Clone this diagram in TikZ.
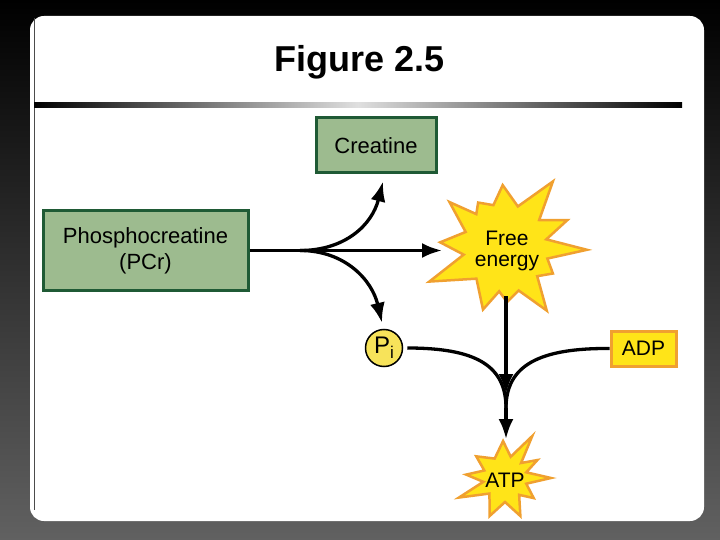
\documentclass[tikz,border=0pt]{standalone}
\usepackage{fontspec}
\setmainfont{Liberation Sans}
\usetikzlibrary{arrows.meta}
\definecolor{leaf}{HTML}{9DBB8F}
\definecolor{leafline}{HTML}{1F5A35}
\definecolor{flash}{HTML}{FFE418}
\definecolor{flashline}{HTML}{F0A030}
\definecolor{pale}{HTML}{F7E35A}
\tikzset{
  gbox/.style={draw=leafline,fill=leaf,line width=3pt,align=center,font=\fontsize{22}{26}\selectfont},
  ybox/.style={draw=flashline,fill=flash,line width=3pt,font=\fontsize{21}{24}\selectfont},
  burst/.style={draw=flashline,fill=flash,line width=2.5pt,line join=miter},
  flow/.style={line width=3.3pt,-{Latex[length=20pt,width=15pt]}},
  joint/.style={line width=3.3pt}
}
\begin{document}
\begin{tikzpicture}[x=1pt,y=-1pt]
					\useasboundingbox (0,0) rectangle (720,540);
					\shade[top color=black,bottom color=black!62] (0,0) rectangle (720,540);
					\fill[white,rounded corners=14pt] (30,16) rectangle (704,521);
					\draw[gray!60!black,line width=1pt] (34,18)--(34,510);
					\shade[left color=black,right color=black,middle color=gray!25] (34,103) rectangle (682,108);

					\node[font=\fontsize{36}{40}\bfseries\selectfont] (title) at (360,62) {Figure 2.5};

					\node[gbox,minimum width=120,minimum height=55] (creatine) at (376,145.5) {Creatine};
					\node[gbox,minimum width=205,minimum height=79] (pcr) at (145.5,250.5) {Phosphocreatine\\(PCr)};

					\begin{scope}[shift={(507,247)}]
						\draw[burst] (-2:80pt) \foreach \a/\r in {11/40,24/66,40/42,55/80,75/42,94/62,108/44,123/53,133/45,142/73,160/44,176/67,190/44,204/85,226/44,249/67,260/45,270/55,285/45,302/75,316/42,330/53,344/42}{ -- (\a:\r pt) } -- cycle;
					\end{scope}
					\node[align=center,font=\fontsize{21}{21}\selectfont] (energy) at (507,251) {Free\\energy};

					\begin{scope}[shift={(505,478)}]
						\draw[burst] (0:46pt) \foreach \a/\r in {15/22,29/37,43/22,57/50,75/22,93/37,118/22,143/36,160/22,175/39,190/22,203/50,225/22,248/41,270/24,292/41,310/22,325/35,345/22}{ -- (\a:\r pt) } -- cycle;
					\end{scope}
					\node[font=\fontsize{21}{24}\selectfont] (atp) at (505,480) {ATP};

					\node[circle,draw,line width=1.5pt,fill=pale,minimum size=37,inner sep=0pt,font=\fontsize{24}{26}\selectfont] (pi) at (384,348) {P\raisebox{-5pt}{\fontsize{17}{18}\selectfont i}};
					\node[ybox,minimum width=65,minimum height=35] (adp) at (643.5,348.5) {ADP};

					\coordinate (split) at (300,250.5);
					\coordinate (energy-w) at (442,250.5);
					\coordinate (energy-s) at (506,296);
					\coordinate (drop) at (506,394);
					\coordinate (merge) at (506,408);
					\coordinate (atp-n) at (506,439);

					\draw[flow] (pcr.east)--(energy-w);
					\draw[flow] (split) .. controls (345,250.5) and (372,225) .. ([xshift=7pt,yshift=-7pt]creatine.south);
					\draw[flow] (split) .. controls (345,250.5) and (372,280) .. ([xshift=-2pt,yshift=6pt]pi.north);

					\draw[flow] (energy-s)--(drop);
					\draw[joint] ([xshift=4pt]pi.east) .. controls (475,348) and (506,365) .. (merge);
					\draw[joint] (adp.west) .. controls (540,348) and (506,365) .. (merge);
					\draw[flow] (merge)--(atp-n);

				\end{tikzpicture}
\end{document}
